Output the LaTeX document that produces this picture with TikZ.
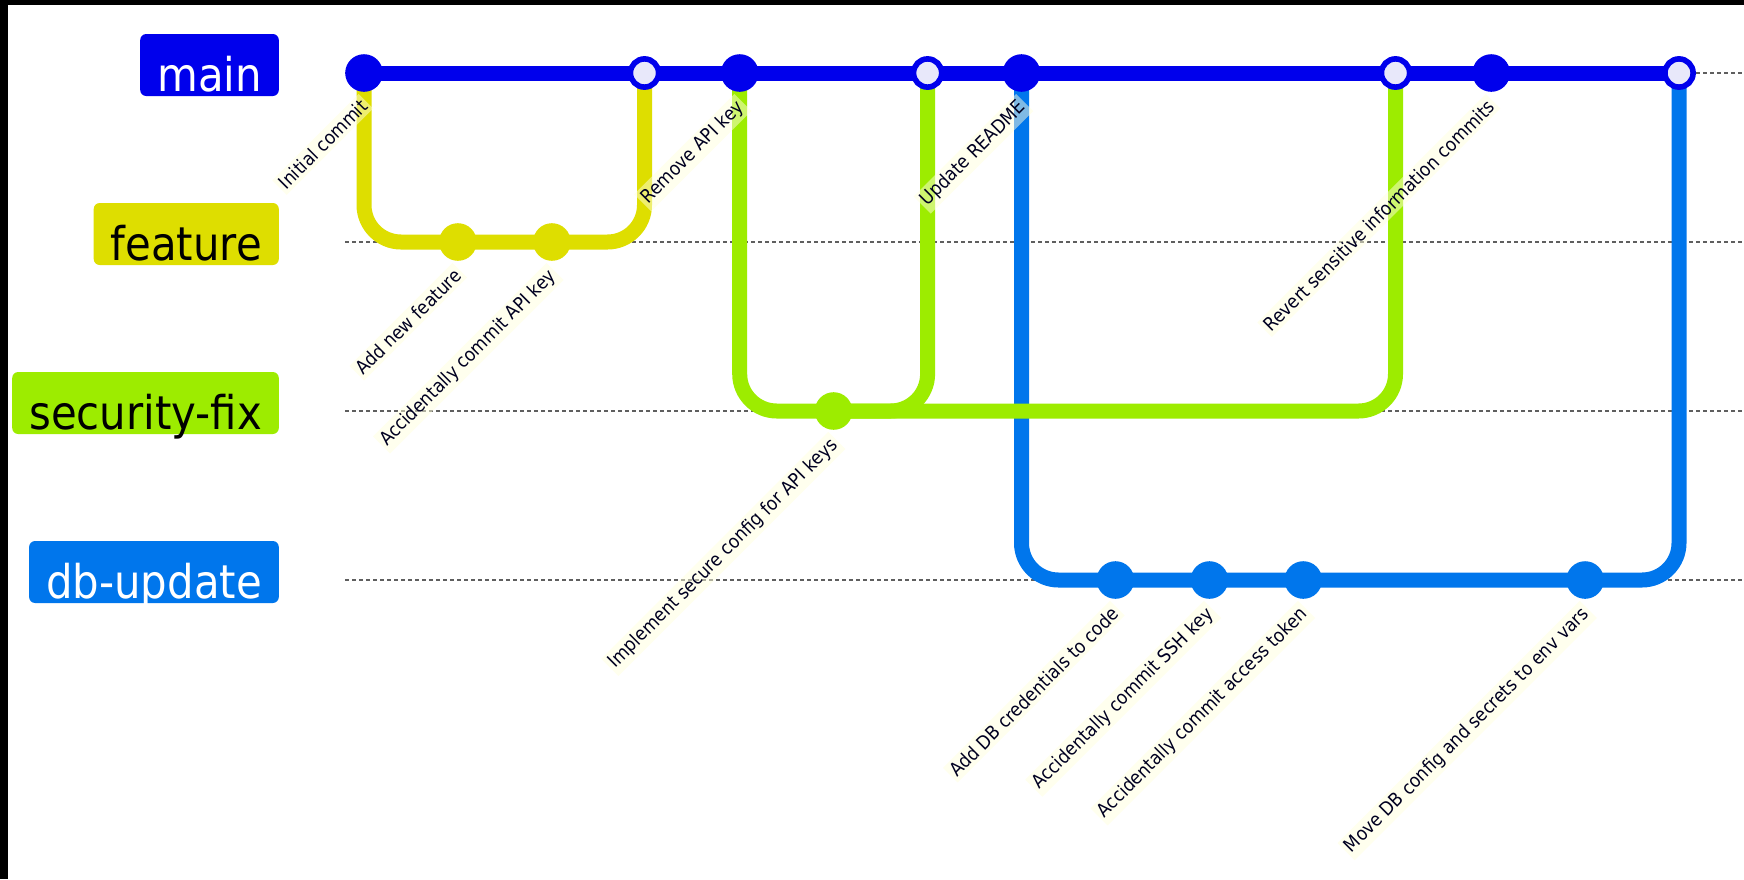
\documentclass[tikz,border=0pt]{standalone}
\usepackage{fontspec}
\setmainfont{DejaVu Sans}[FakeStretch=0.9]
\usetikzlibrary{calc}
\definecolor{gmain}{RGB}{0,0,236}
\definecolor{gfeat}{RGB}{222,222,0}
\definecolor{gsec}{RGB}{157,236,0}
\definecolor{gdb}{RGB}{0,118,236}
\definecolor{mergefill}{RGB}{232,232,250}
\definecolor{lblbg}{RGB}{255,255,222}
\definecolor{lbltext}{RGB}{0,0,33}
\definecolor{lanegray}{RGB}{95,95,95}
\pgfdeclarelayer{bg}
\pgfdeclarelayer{lanes}
\pgfdeclarelayer{lines}
\pgfsetlayers{bg,lanes,lines,main}
\tikzset{
  commitdot/.style={circle, minimum size=37.6pt, inner sep=0pt, draw=none},
  mergedot/.style={circle, minimum size=28.2pt, inner sep=0pt, line width=5.6pt, draw=gmain, fill=mergefill},
  branchline/.style={line width=15pt, rounded corners=37pt},
  lanestyle/.style={draw=lanegray, line width=1.5pt, dash pattern=on 3.5pt off 3.5pt},
  branchlbl/.style={rectangle, rounded corners=6pt, anchor=east, inner xsep=17pt, inner ysep=0pt, text height=57pt, text depth=5pt, font=\fontsize{46.5}{52}\selectfont},
  commitlbl/.style={rotate=45, anchor=base east, inner sep=3pt, fill=lblbg, fill opacity=0.5, text opacity=1, text=lbltext, font=\fontsize{18.8}{22}\selectfont},
}
\begin{document}
\begin{tikzpicture}[x=1pt,y=-1pt]
\useasboundingbox (0,0) rectangle (1744,879);
\begin{pgfonlayer}{bg}
\fill[white] (0,0) rectangle (1744,879);
\fill[black] (0,0) rectangle (1744,5);
\fill[black] (0,0) rectangle (8,879);
\end{pgfonlayer}

% branch labels
\node[branchlbl, fill=gmain, text=white] (bmain) at (279,65) {main};
\node[branchlbl, fill=gfeat, text=black] (bfeat) at (279,234) {feature};
\node[branchlbl, fill=gsec, text=black] (bsec) at (279,403) {security-fix};
\node[branchlbl, fill=gdb, text=white] (bdb) at (279,572) {db-update};

% lanes
\coordinate (l0s) at (345,73);  \coordinate (l0e) at (1744,73);
\coordinate (l1s) at (345,242); \coordinate (l1e) at (1744,242);
\coordinate (l2s) at (345,411); \coordinate (l2e) at (1744,411);
\coordinate (l3s) at (345,580); \coordinate (l3e) at (1744,580);
\begin{pgfonlayer}{lanes}
\draw[lanestyle] (l0s) -- (l0e);
\draw[lanestyle] (l1s) -- (l1e);
\draw[lanestyle] (l2s) -- (l2e);
\draw[lanestyle] (l3s) -- (l3e);
\end{pgfonlayer}

% commits
\node[commitdot, fill=gmain] (c0) at (364,73) {};
\node[commitdot, fill=gfeat] (c1) at (457.9,242) {};
\node[commitdot, fill=gfeat] (c2) at (551.9,242) {};
\node[mergedot] (c3) at (644.5,73) {};
\node[commitdot, fill=gmain] (c4) at (739.7,73) {};
\node[commitdot, fill=gsec] (c5) at (833.6,411) {};
\node[mergedot] (c6) at (927.6,73) {};
\node[commitdot, fill=gmain] (c7) at (1021.5,73) {};
\node[commitdot, fill=gdb] (c8) at (1115.4,580) {};
\node[commitdot, fill=gdb] (c9) at (1209.4,580) {};
\node[commitdot, fill=gdb] (c10) at (1303.3,580) {};
\node[mergedot] (c11) at (1395.5,73) {};
\node[commitdot, fill=gmain] (c12) at (1491.2,73) {};
\node[commitdot, fill=gdb] (c13) at (1585.1,580) {};
\node[mergedot] (c14) at (1679,73) {};

% connectors
\begin{pgfonlayer}{lines}
\draw[branchline, draw=gmain] (c0.center) -- (c14.center);
\draw[branchline, draw=gfeat] (c0.center) |- (c1.center) -- (c2.center);
\draw[branchline, draw=gfeat] (c2.center) -| (c3.center);
\draw[branchline, draw=gdb] (c7.center) |- (c8.center) -- (c9.center) -- (c10.center) -- (c13.center);
\draw[branchline, draw=gdb] (c13.center) -| (c14.center);
\draw[branchline, draw=gsec] (c4.center) |- (c5.center);
\draw[branchline, draw=gsec] (c5.center) -| (c6.center);
\draw[branchline, draw=gsec] (c5.center) -| (c11.center);
\end{pgfonlayer}

% commit labels
\node[commitlbl] (t0) at ($(c0.center)+(7,33)$) {Initial commit};
\node[commitlbl] (t1) at ($(c1.center)+(7,33)$) {Add new feature};
\node[commitlbl] (t2) at ($(c2.center)+(7,33)$) {Accidentally commit API key};
\node[commitlbl] (t4) at ($(c4.center)+(7,33)$) {Remove API key};
\node[commitlbl] (t5) at ($(c5.center)+(7,33)$) {Implement secure config for API keys};
\node[commitlbl] (t7) at ($(c7.center)+(7,33)$) {Update README};
\node[commitlbl] (t8) at ($(c8.center)+(7,33)$) {Add DB credentials to code};
\node[commitlbl] (t9) at ($(c9.center)+(7,33)$) {Accidentally commit SSH key};
\node[commitlbl] (t10) at ($(c10.center)+(7,33)$) {Accidentally commit access token};
\node[commitlbl] (t12) at ($(c12.center)+(7,33)$) {Revert sensitive information commits};
\node[commitlbl] (t13) at ($(c13.center)+(7,33)$) {Move DB config and secrets to env vars};
\end{tikzpicture}
\end{document}
